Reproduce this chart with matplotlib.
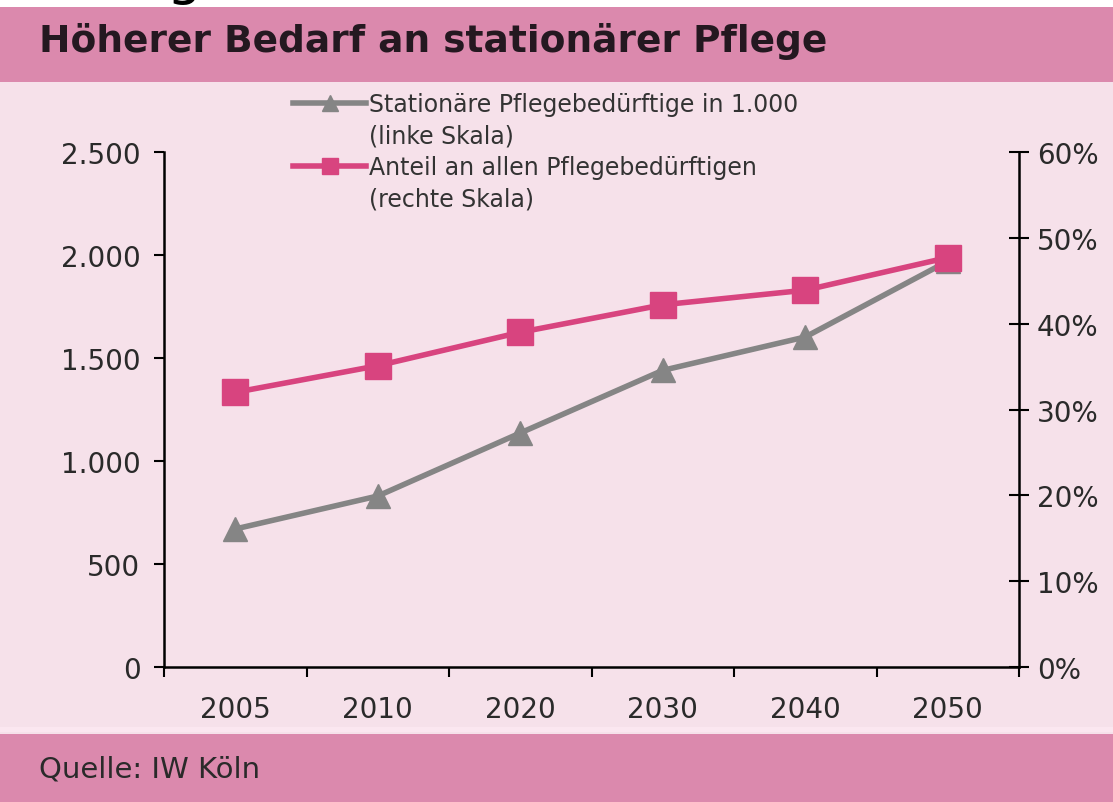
import matplotlib
matplotlib.use('Agg')
import matplotlib.pyplot as plt
from matplotlib.patches import Rectangle
from matplotlib.lines import Line2D

# data
years = ['2005', '2010', '2020', '2030', '2040', '2050']
stationaer = [670, 830, 1136, 1440, 1602, 1970]      # in 1.000, left scale
anteil = [32.0, 35.1, 39.0, 42.2, 43.9, 47.7]         # percent, right scale

left_ticks = [0, 500, 1000, 1500, 2000, 2500]
left_labels = ['0', '500', '1.000', '1.500', '2.000', '2.500']
right_ticks = [0, 10, 20, 30, 40, 50, 60]
right_labels = ['0%', '10%', '20%', '30%', '40%', '50%', '60%']

title = 'Höherer Bedarf an stationärer Pflege'
source = 'Quelle: IW Köln'
legend_lines = ['Stationäre Pflegebedürftige in 1.000', '(linke Skala)',
                'Anteil an allen Pflegebedürftigen', '(rechte Skala)']

GREY = '#858585'
PINK = '#d8447f'
BAR = '#db89ad'
BODY = '#f6e1ea'
TXT = '#2a2a2a'

plt.rcParams['font.family'] = ['DejaVu Sans']

W, H = 1113, 803
fig = plt.figure(figsize=(W / 100, H / 100), dpi=100)
fig.patch.set_facecolor('white')

def fy(px):
    return (H - px) / H

# background bands
fig.patches.append(Rectangle((0, fy(735)), 1, fy(83) - fy(735), transform=fig.transFigure,
                             facecolor=BODY, edgecolor='none', zorder=-10))
fig.patches.append(Rectangle((0, fy(83)), 1, fy(8) - fy(83), transform=fig.transFigure,
                             facecolor=BAR, edgecolor='none', zorder=-10))
fig.patches.append(Rectangle((0, fy(733)), 1, fy(728) - fy(733), transform=fig.transFigure,
                             facecolor='#fbe7f0', edgecolor='none', zorder=-9))
fig.patches.append(Rectangle((0, 0), 1, fy(735), transform=fig.transFigure,
                             facecolor=BAR, edgecolor='none', zorder=-10))

# cropped heading fragment at the very top
fig.text(167 / W, 1 + 7 / H, 'g', fontsize=40, color='black', va='baseline', ha='left')

fig.text(39 / W, fy(42), title, fontsize=27, fontweight='bold', color='#241820', va='center')
fig.text(39 / W, fy(770), source, fontsize=21, color=TXT, va='center')

ax = fig.add_axes([164 / W, fy(668), (1019 - 164) / W, fy(153) - fy(668)])
ax.patch.set_alpha(0)
x = list(range(len(years)))

ax.plot(x, stationaer, color=GREY, lw=4, marker='^', markersize=17, zorder=3)
ax.set_xlim(-0.5, len(years) - 0.5)
ax.set_ylim(0, 2500)
ax.set_yticks(left_ticks)
ax.set_yticklabels(left_labels)
ax.set_xticks(x)
ax.set_xticklabels(years)
ax.set_xticks([i - 0.5 for i in range(len(years) + 1)], minor=True)
ax.tick_params(axis='x', which='major', length=0, pad=20, labelsize=20, labelcolor=TXT)
ax.tick_params(axis='x', which='minor', length=7, width=1.5, direction='out')
ax.tick_params(axis='y', length=7, width=1.5, direction='out', pad=10, labelsize=20, labelcolor=TXT)
for s in ['top', 'right']:
    ax.spines[s].set_visible(False)
for s in ['left', 'bottom']:
    ax.spines[s].set_linewidth(1.8)

ax2 = ax.twinx()
ax2.plot(x, anteil, color=PINK, lw=4, marker='s', markersize=19, zorder=4)
ax2.set_ylim(0, 60)
ax2.set_yticks(right_ticks)
ax2.set_yticklabels(right_labels)
ax2.tick_params(axis='y', length=14, width=1.5, direction='inout', pad=6, labelsize=20, labelcolor=TXT)
for s in ['top', 'left', 'bottom']:
    ax2.spines[s].set_visible(False)
ax2.spines['right'].set_linewidth(1.8)

blank = Line2D([], [], color='none')
handles = [Line2D([], [], color=GREY, lw=4, marker='^', markersize=11), blank,
           Line2D([], [], color=PINK, lw=4, marker='s', markersize=11), blank]
fig.legend(handles, legend_lines, loc='upper left',
           bbox_to_anchor=(293 / W, fy(93)), frameon=False, fontsize=17,
           handlelength=3.1, handletextpad=0.1, labelspacing=0.32,
           borderaxespad=0, borderpad=0, labelcolor='#333333')

fig.savefig('out.png', dpi=100)
